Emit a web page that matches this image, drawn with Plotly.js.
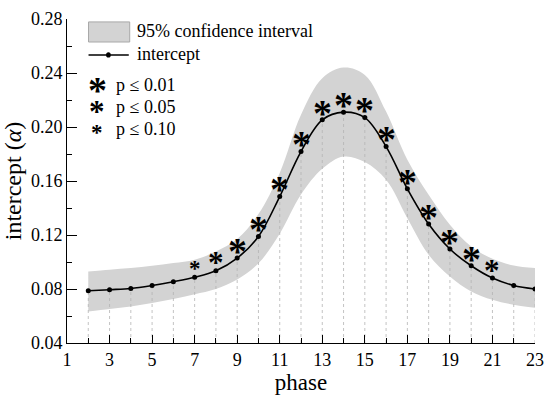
<!DOCTYPE html>
<html>
<head>
<meta charset="utf-8">
<script src="https://cdn.plot.ly/plotly-3.0.1.min.js"></script>
<style>html,body{margin:0;padding:0;background:#fff;}#chart{width:550px;height:397px;}</style>
</head>
<body>
<div id="chart"></div>
<script>
// ---- data ----
const phase = [2,3,4,5,6,7,8,9,10,11,12,13,14,15,16,17,18,19,20,21,22,23];
const intercept = [0.0787,0.0795,0.0804,0.0826,0.0854,0.0887,0.0935,0.1029,0.1189,0.1485,0.1818,0.2053,
                   0.2110,0.2070,0.1855,0.1542,0.1281,0.1096,0.0972,0.0881,0.0826,0.0800];
const ciUpper = [0.0930,0.0943,0.0955,0.0972,0.0992,0.1017,0.1078,0.1170,0.1355,0.1660,0.2090,0.2361,
                 0.2440,0.2386,0.2114,0.1757,0.1498,0.1276,0.1115,0.1024,0.0974,0.0955];
const ciLower = [0.0634,0.0652,0.0671,0.0696,0.0726,0.0761,0.0800,0.0870,0.0990,0.1210,0.1500,0.1690,
                 0.1781,0.1740,0.1609,0.1325,0.1054,0.0893,0.0782,0.0720,0.0683,0.0661];
// significance level of each phase (null = not significant)
const pLevel = [null,null,null,null,null,0.10,0.05,0.01,0.01,0.01,0.01,0.01,
                0.01,0.01,0.01,0.01,0.01,0.01,0.01,0.05,null,null];
const xTickVals = [1,3,5,7,9,11,13,15,17,19,21,23];
const yTickVals = [0.04,0.08,0.12,0.16,0.20,0.24,0.28];

// ---- styles ----
const FONT = "Liberation Serif";
const starSize = {0.01: 38, 0.05: 31, 0.10: 23};

// drop lines built from the data
const dropX = [], dropY = [];
phase.forEach((p, i) => { dropX.push(p, p, null); dropY.push(0.04, intercept[i], null); });

const traces = [
  {x: phase, y: ciLower, mode: 'lines', line: {color: 'rgba(0,0,0,0)', width: 0, shape: 'spline'},
   hoverinfo: 'skip', showlegend: false},
  {x: phase, y: ciUpper, mode: 'lines', fill: 'tonexty', fillcolor: '#d3d3d3',
   line: {color: 'rgba(0,0,0,0)', width: 0, shape: 'spline'}, hoverinfo: 'skip', showlegend: false},
  {x: dropX, y: dropY, mode: 'lines', line: {color: '#b4b4b4', width: 0.8, dash: '3px,3px'},
   hoverinfo: 'skip', showlegend: false},
  {x: phase, y: intercept, mode: 'lines+markers', line: {color: '#000', width: 1.6, shape: 'spline'},
   marker: {color: '#000', size: 5}, showlegend: false}
];

// significance stars, anchored on the data points
const starAnn = [];
phase.forEach((p, i) => {
  if (pLevel[i] === null) return;
  const s = starSize[pLevel[i]];
  starAnn.push({x: p, y: intercept[i], xref: 'x', yref: 'y', text: '*', showarrow: false,
    xanchor: 'center', yanchor: 'middle', yshift: 11 - 0.1 * s,
    font: {family: FONT, size: s, color: '#000', weight: 'bold'}});
});

// legend (drawn by hand, paper coordinates)
const legShapes = [
  {type: 'rect', xref: 'paper', yref: 'paper', x0: 0.046, x1: 0.134, y0: 0.929, y1: 0.991,
   fillcolor: '#d3d3d3', line: {color: '#a8a8a8', width: 1}},
  {type: 'line', xref: 'paper', yref: 'paper', x0: 0.046, x1: 0.132, y0: 0.889, y1: 0.889,
   line: {color: '#000', width: 1.6}},
  {type: 'circle', xref: 'paper', yref: 'paper', x0: 0.0835, x1: 0.0935, y0: 0.881, y1: 0.897,
   fillcolor: '#000', line: {color: '#000', width: 0}}
];
const legAnn = [
  {text: '95% confidence interval', x: 0.146, y: 0.962},
  {text: 'intercept', x: 0.146, y: 0.891},
  {text: 'p ≤ 0.01', x: 0.101, y: 0.795},
  {text: 'p ≤ 0.05', x: 0.101, y: 0.727},
  {text: 'p ≤ 0.10', x: 0.101, y: 0.659}
].map(a => Object.assign({xref: 'paper', yref: 'paper', xanchor: 'left', yanchor: 'middle',
  showarrow: false, font: {family: FONT, size: 18, color: '#000'}}, a));
[[0.01, 0.793], [0.05, 0.725], [0.10, 0.657]].forEach(([lv, y]) => {
  const s = starSize[lv];
  legAnn.push({text: '*', x: 0.065, y: y, xref: 'paper', yref: 'paper', xanchor: 'center', yanchor: 'middle',
    yshift: -0.1 * s, showarrow: false, font: {family: FONT, size: s, color: '#000', weight: 'bold'}});
});

const layout = {
  width: 550, height: 397,
  margin: {l: 66.5, r: 15, t: 19, b: 53.7},
  paper_bgcolor: '#fff', plot_bgcolor: '#fff',
  showlegend: false,
  font: {family: FONT, color: '#000'},
  xaxis: {
    range: [1, 23], tickvals: xTickVals, ticktext: xTickVals.map(String),
    ticks: 'inside', ticklen: 8, tickwidth: 1, tickcolor: '#000',
    minor: {dtick: 1, tick0: 1, ticks: 'inside', ticklen: 5, tickcolor: '#000', showgrid: false},
    showgrid: false, zeroline: false, showline: true, linecolor: '#000', linewidth: 1,
    tickfont: {family: FONT, size: 18, color: '#000'},
    title: {text: 'phase', font: {family: FONT, size: 23, color: '#000'}, standoff: 0}
  },
  yaxis: {
    range: [0.04, 0.28], tickvals: yTickVals, ticktext: yTickVals.map(v => v.toFixed(2)),
    ticks: 'inside', ticklen: 10, tickwidth: 1, tickcolor: '#000',
    minor: {dtick: 0.02, tick0: 0.04, ticks: 'inside', ticklen: 5, tickcolor: '#000', showgrid: false},
    showgrid: false, zeroline: false, showline: true, linecolor: '#000', linewidth: 1,
    tickfont: {family: FONT, size: 18, color: '#000'},
    title: {text: 'intercept (<i>α</i>)', font: {family: FONT, size: 24, color: '#000'}, standoff: 6}
  },
  shapes: legShapes,
  annotations: legAnn.concat(starAnn)
};

Plotly.newPlot('chart', traces, layout, {displayModeBar: false, staticPlot: true});
</script>
</body>
</html>
